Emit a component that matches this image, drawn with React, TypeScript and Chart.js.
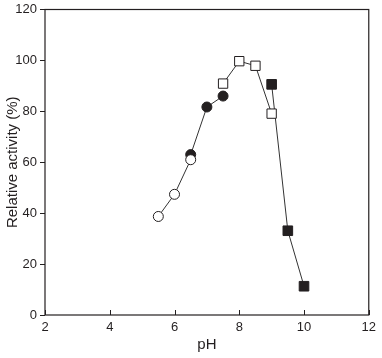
import React, { useEffect, useRef } from "react";
import { Chart, registerables } from "chart.js";

Chart.register(...registerables);

const openCircleX = [5.5, 6, 6.5];
const openCircleY = [38.7, 47.4, 61];
const filledCircleX = [6.5, 7, 7.5];
const filledCircleY = [63, 81.7, 86];
const openSquareX = [7.5, 8, 8.5, 9];
const openSquareY = [90.9, 99.7, 97.9, 79.1];
const filledSquareX = [9, 9.5, 10];
const filledSquareY = [90.6, 33.1, 11.3];

const xTicks = [2, 4, 6, 8, 10, 12];
const yTicks = [0, 20, 40, 60, 80, 100, 120];

const INK = "#231f20";
const FONT = "'Liberation Sans', Arial, sans-serif";

const toPts = (xs: number[], ys: number[]) => xs.map((x, i) => ({ x, y: ys[i] }));

const framePlugin = {
  id: "frame",
  afterDraw(chart: any) {
    const { ctx, chartArea } = chart;
    const xs = chart.scales.x;
    ctx.save();
    ctx.strokeStyle = INK;
    ctx.lineWidth = 1.2;
    ctx.strokeRect(chartArea.left, chartArea.top, chartArea.right - chartArea.left, chartArea.bottom - chartArea.top);
    ctx.lineWidth = 1;
    xTicks.forEach((v) => {
      const px = Math.round(xs.getPixelForValue(v)) + 0.5;
      ctx.beginPath();
      ctx.moveTo(px, chartArea.bottom);
      ctx.lineTo(px, chartArea.bottom - 5);
      ctx.stroke();
    });
    ctx.restore();
  },
};

export default function App() {
  const ref = useRef<HTMLCanvasElement | null>(null);
  useEffect(() => {
    if (!ref.current) return;
    const common = {
      showLine: true,
      borderColor: "#333",
      borderWidth: 1,
      pointBorderColor: INK,
      pointBorderWidth: 1,
    };
    const chart = new Chart(ref.current, {
      type: "scatter",
      data: {
        datasets: [
          {
            ...common,
            data: toPts(openCircleX, openCircleY),
            pointStyle: "circle",
            pointRadius: 5,
            pointBackgroundColor: "#ffffff",
          },
          {
            ...common,
            data: toPts(filledCircleX, filledCircleY),
            pointStyle: "circle",
            pointRadius: 5,
            pointBackgroundColor: INK,
          },
          {
            ...common,
            data: toPts(openSquareX, openSquareY),
            pointStyle: "rect",
            pointRadius: 6.6,
            pointBackgroundColor: "#ffffff",
          },
          {
            ...common,
            data: toPts(filledSquareX, filledSquareY),
            pointStyle: "rect",
            pointRadius: 6.8,
            pointBackgroundColor: INK,
          },
        ] as any,
      },
      options: {
        animation: false,
        responsive: false,
        maintainAspectRatio: false,
        layout: { padding: { left: 0, right: 11, top: 7, bottom: 0 } },
        plugins: { legend: { display: false }, tooltip: { enabled: false } },
        scales: {
          x: {
            type: "linear",
            min: 2,
            max: 12,
            afterBuildTicks: (s: any) => {
              s.ticks = xTicks.map((v) => ({ value: v }));
            },
            afterFit: (s: any) => {
              s.height = 43;
            },
            grid: { display: false, drawTicks: false, tickLength: 0 },
            border: { display: false },
            ticks: {
              color: INK,
              padding: 6,
              maxRotation: 0,
              autoSkip: false,
              font: { family: FONT, size: 13, lineHeight: 1 },
            },
            title: {
              display: true,
              text: "pH",
              color: INK,
              font: { family: FONT, size: 15 },
            },
          },
          y: {
            type: "linear",
            min: 0,
            max: 120,
            afterBuildTicks: (s: any) => {
              s.ticks = yTicks.map((v) => ({ value: v }));
            },
            afterFit: (s: any) => {
              s.width = 45;
            },
            grid: {
              drawOnChartArea: false,
              drawTicks: true,
              tickLength: 5,
              color: INK,
            },
            border: { display: false },
            ticks: {
              color: INK,
              padding: 3,
              autoSkip: false,
              font: { family: FONT, size: 13, lineHeight: 1 },
            },
            title: {
              display: true,
              text: "Relative activity (%)",
              color: INK,
              font: { family: FONT, size: 15 },
            },
          },
        },
      },
      plugins: [framePlugin],
    });
    return () => chart.destroy();
  }, []);
  return (
    <div style={{ position: "absolute", left: 0, top: 0, width: 382, height: 358, background: "#fff" }}>
      <canvas ref={ref} width={382} height={358} style={{ width: 382, height: 358, display: "block" }} />
    </div>
  );
}
